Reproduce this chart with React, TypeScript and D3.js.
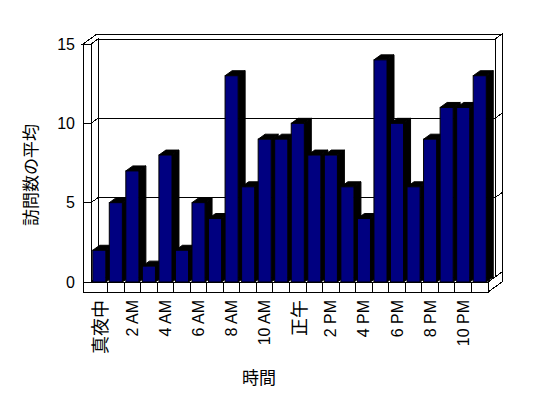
import * as d3 from 'd3';

// 訪問数の平均 by hour
const hours = [
  '0', '1', '2', '3', '4', '5', '6', '7', '8', '9', '10', '11',
  '12', '13', '14', '15', '16', '17', '18', '19', '20', '21', '22', '23',
];
const visits = [2, 5, 7, 1, 8, 2, 5, 4, 13, 6, 9, 9, 10, 8, 8, 6, 4, 14, 10, 6, 9, 11, 11, 13];
const hourLabels = [
  '真夜中', '', '2 AM', '', '4 AM', '', '6 AM', '', '8 AM', '', '10 AM', '',
  '正午', '', '2 PM', '', '4 PM', '', '6 PM', '', '8 PM', '', '10 PM', '',
];
const yTicks = [0, 5, 10, 15];
const gridValues = [5, 10];

const W = 548;
const H = 398;
const FONT = '"Liberation Sans", Arial, "Noto Sans CJK JP", sans-serif';
const CJK = '"Noto Sans CJK JP", "Liberation Sans", sans-serif';

export default function App() {
  const x0 = 91;
  const x1 = 488;
  const dx = 7; // depth offset
  const dy = -5;
  const wallT = 8; // wall thickness
  const floorH = 10;

  const x = d3.scaleBand<string>().domain(hours).range([x0, x1]).paddingInner(0.21).paddingOuter(0.105);
  const step = (x1 - x0) / hours.length;
  const y = d3.scaleLinear().domain([0, 15]).range([282, 44]);

  const y0 = y(0);
  const yTop = y(15);
  const xl = x0 - wallT;
  const pts = (p: [number, number][]) => p.map((q) => q.join(',')).join(' ');
  const bw = x.bandwidth();

  return (
    <svg width={W} height={H} style={{ position: 'absolute', left: 0, top: 0, background: '#fff' }} fontFamily={FONT}>
      <g stroke="#000" strokeWidth={1} fill="#fff" shapeRendering="crispEdges">
        {/* top face of walls */}
        <polygon
          points={pts([
            [xl, yTop],
            [x0, yTop],
            [x0 + dx, yTop + dy],
            [x1 + dx, yTop + dy],
            [x1 + 2 * dx, yTop + 2 * dy],
            [xl + 2 * dx, yTop + 2 * dy],
          ])}
        />
        {/* back wall face */}
        <rect x={x0 + dx} y={yTop + dy} width={x1 - x0} height={y0 - yTop} />
        {/* back wall right side */}
        <polygon
          points={pts([
            [x1 + dx, yTop + dy],
            [x1 + 2 * dx, yTop + 2 * dy],
            [x1 + 2 * dx, y0 + 2 * dy],
            [x1 + dx, y0 + dy],
          ])}
        />
        {/* left wall inner face */}
        <polygon
          points={pts([
            [x0, yTop],
            [x0 + dx, yTop + dy],
            [x0 + dx, y0 + dy],
            [x0, y0],
          ])}
        />
        {/* left wall front face */}
        <rect x={xl} y={yTop} width={wallT} height={y0 - yTop + floorH} />
        {/* floor top */}
        <polygon
          points={pts([
            [x0, y0],
            [x1, y0],
            [x1 + 2 * dx, y0 + 2 * dy],
            [x1 + dx, y0 + dy],
            [x0 + dx, y0 + dy],
          ])}
        />
        {/* floor front */}
        <rect x={xl} y={y0} width={x1 - xl} height={floorH} />
        {/* floor right */}
        <polygon
          points={pts([
            [x1, y0],
            [x1 + 2 * dx, y0 + 2 * dy],
            [x1 + 2 * dx, y0 + floorH + 2 * dy],
            [x1, y0 + floorH],
          ])}
        />
        {hours.slice(1).map((h, i) => (
          <line key={h} x1={x0 + (i + 1) * step} x2={x0 + (i + 1) * step} y1={y0} y2={y0 + floorH} />
        ))}
        {/* gridlines */}
        {gridValues.map((v) => (
          <polyline
            key={v}
            fill="none"
            points={pts([
              [xl, y(v)],
              [x0, y(v)],
              [x0 + dx, y(v) + dy],
              [x1 + dx, y(v) + dy],
              [x1 + 2 * dx, y(v) + 2 * dy],
            ])}
          />
        ))}
      </g>

      {/* bars */}
      <g stroke="#000" strokeWidth={1}>
        {hours.map((h, i) => {
          const bx = x(h)!;
          const top = y(visits[i]);
          return (
            <g key={h}>
              <polygon
                fill="#000"
                points={pts([
                  [bx + bw, top],
                  [bx + bw + dx, top + dy],
                  [bx + bw + dx, y0 + dy],
                  [bx + bw, y0],
                ])}
              />
              <polygon
                fill="#000"
                points={pts([
                  [bx, top],
                  [bx + dx, top + dy],
                  [bx + bw + dx, top + dy],
                  [bx + bw, top],
                ])}
              />
              <rect x={bx} y={top} width={bw} height={y0 - top} fill="#000080" />
            </g>
          );
        })}
      </g>

      {/* y tick labels */}
      {yTicks.map((v) => (
        <text key={v} x={75} y={y(v)} textAnchor="end" dominantBaseline="central" fontSize={16} fill="#000">
          {v}
        </text>
      ))}

      {/* x tick labels */}
      {hours.map((h, i) => {
        const label = hourLabels[i];
        if (!label) return null;
        const latin = /[A-Z]/.test(label);
        return (
          <text
            key={h}
            transform={`translate(${x0 + (i + 0.5) * step},300) rotate(-90)`}
            textAnchor="end"
            dominantBaseline="central"
            fontSize={latin ? 16 : 18}
            fontFamily={latin ? FONT : CJK}
            fill="#000"
          >
            {label}
          </text>
        );
      })}

      <text
        transform="translate(29,175) rotate(-90)"
        textAnchor="middle"
        dominantBaseline="central"
        fontSize={17}
        fontFamily={CJK}
        fill="#000"
      >
        訪問数の平均
      </text>
      <text x={259} y={376} textAnchor="middle" dominantBaseline="central" fontSize={17} fontFamily={CJK} fill="#000">
        時間
      </text>
    </svg>
  );
}
